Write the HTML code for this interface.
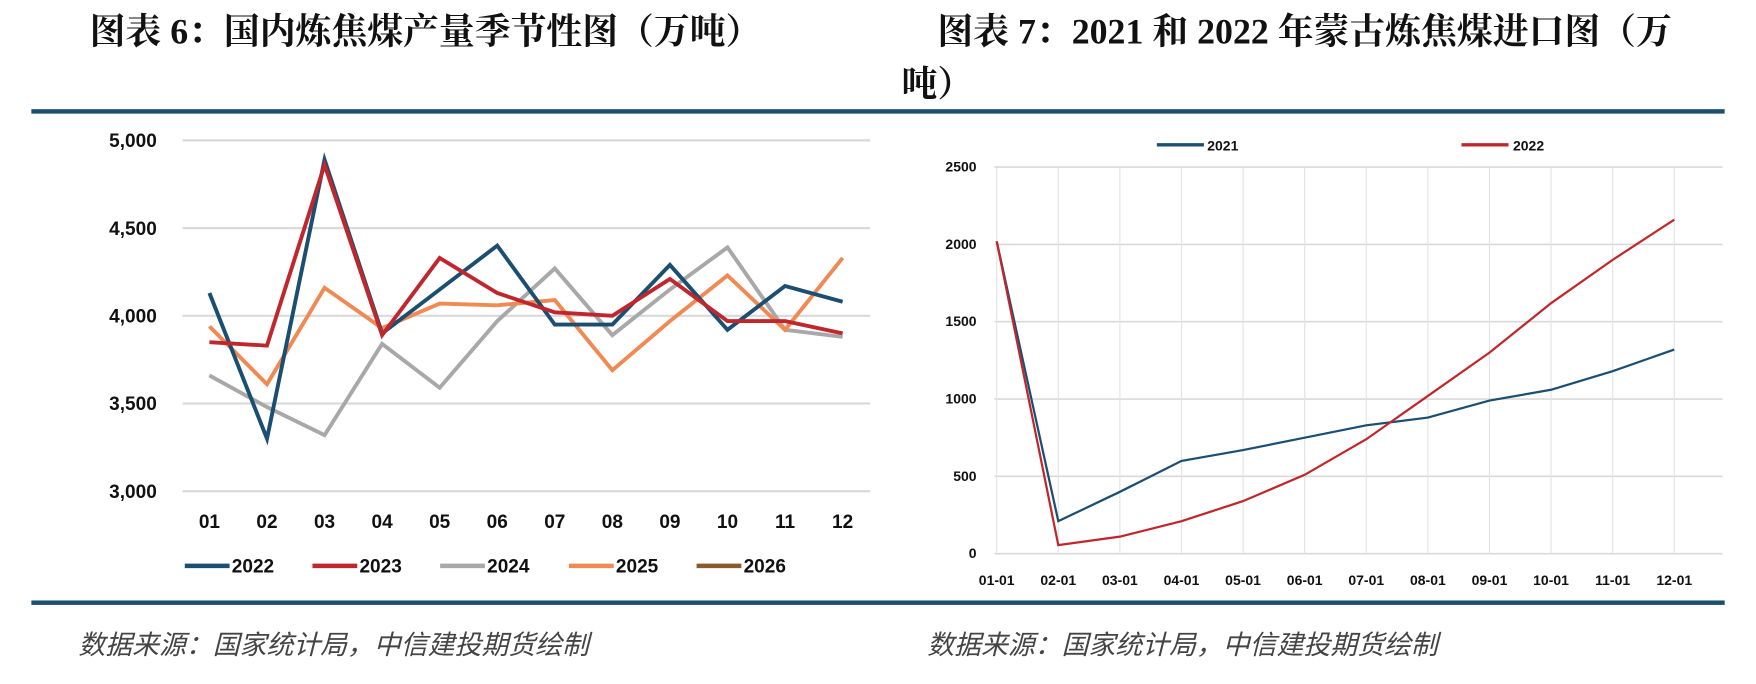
<!DOCTYPE html>
<html><head><meta charset="utf-8"><style>
html,body{margin:0;padding:0;background:#fff;}
svg{display:block}
text{font-family:"Liberation Sans","Noto Sans CJK SC",sans-serif;}
.t{font-family:"Liberation Serif","Noto Serif CJK SC",serif;font-weight:bold;font-size:32px;fill:#111}
.ax{font-size:17px;font-weight:bold;fill:#111}
.ax2{font-size:12.5px;font-weight:bold;fill:#111}
.src{font-size:24px;font-style:italic;fill:#444}
</style></head><body>
<svg id="s" width="1756" height="684" viewBox="0 0 1568 614" preserveAspectRatio="none" xmlns="http://www.w3.org/2000/svg">
<text class="t" x="80" y="39">图表 6：国内炼焦煤产量季节性图（万吨）</text>
<text class="t" x="837" y="39">图表 7：2021 和 2022 年蒙古炼焦煤进口图（万</text>
<text class="t" x="805" y="86">吨）</text>
<rect x="28" y="98" width="1512" height="4" fill="#1b4f72"/>
<rect x="28" y="539" width="1512" height="4" fill="#1b4f72"/>
<text class="src" x="70" y="587">数据来源：国家统计局，中信建投期货绘制</text>
<text class="src" x="828" y="587">数据来源：国家统计局，中信建投期货绘制</text>
<g id="g"></g>
</svg>
<script>
var g=document.getElementById('g'),h='';
function L(x1,y1,x2,y2,c,w){h+='<line x1="'+x1+'" y1="'+y1+'" x2="'+x2+'" y2="'+y2+'" stroke="'+c+'" stroke-width="'+w+'"/>';}
function T(x,y,s,c,a){h+='<text class="'+c+'" x="'+x+'" y="'+y+'" text-anchor="'+(a||'start')+'">'+s+'</text>';}
function P(pts,c,w){h+='<polyline fill="none" stroke="'+c+'" stroke-width="'+w+'" stroke-linejoin="miter" points="'+pts.join(' ')+'"/>';}
var ly=function(v){return 441-(v-3000)/2000*315;};
var lx=function(i){return 187+i*51.4;};
[3000,3500,4000,4500,5000].forEach(function(v){L(163,ly(v),777,ly(v),'#d9d9d9',2);T(140,ly(v)+6,v.toLocaleString('en-US'),'ax','end');});
for(var i=0;i<12;i++)T(lx(i),474,(i<9?'0':'')+(i+1),'ax','middle');
var ld=[['#1b4f72',[4130,3300,4890,3900,4150,4400,3950,3950,4290,3920,4170,4080]],
['#c0272d',[3850,3830,4860,3890,4330,4130,4020,4000,4210,3970,3970,3900]],
['#a8a8a8',[3660,3480,3320,3840,3590,3970,4270,3890,4150,4390,3920,3880]],
['#f08a54',[3940,3610,4160,3930,4070,4060,4090,3690,3970,4230,3920,4330]]];
[2,3,0,1].forEach(function(k){P(ld[k][1].map(function(v,i){return lx(i)+','+ly(v);}),ld[k][0],3.5);});
var lg=[['#1b4f72','2022',165],['#c0272d','2023',279],['#a8a8a8','2024',393],['#f08a54','2025',508],['#8b5a2b','2026',622]];
lg.forEach(function(a){L(a[2],508,a[2]+40,508,a[0],4);T(a[2]+42,514,a[1],'ax');});
var ry=function(v){return 497-v*0.1388;};
var rx=function(i){return 890+i*55;};
[0,500,1000,1500,2000,2500].forEach(function(v){L(888,ry(v),1538,ry(v),'#d9d9d9',1.5);T(872,ry(v)+4,v,'ax2','end');});
for(var i=0;i<12;i++){L(rx(i),ry(2500),rx(i),497,'#e3e3e3',1);T(rx(i),525,(i<9?'0':'')+(i+1)+'-01','ax2','middle');}
P([2020,210,400,600,670,750,830,880,990,1060,1180,1320].map(function(v,i){return rx(i)+','+ry(v);}),'#1b4f72',2);
P([2020,55,110,210,340,510,740,1020,1300,1620,1900,2160].map(function(v,i){return rx(i)+','+ry(v);}),'#c0272d',2);
L(1033,130,1075,130,'#1b4f72',3);T(1078,135,'2021','ax2');
L(1305,130,1347,130,'#c0272d',3);T(1351,135,'2022','ax2');
g.innerHTML=h;
</script>
</body></html>
